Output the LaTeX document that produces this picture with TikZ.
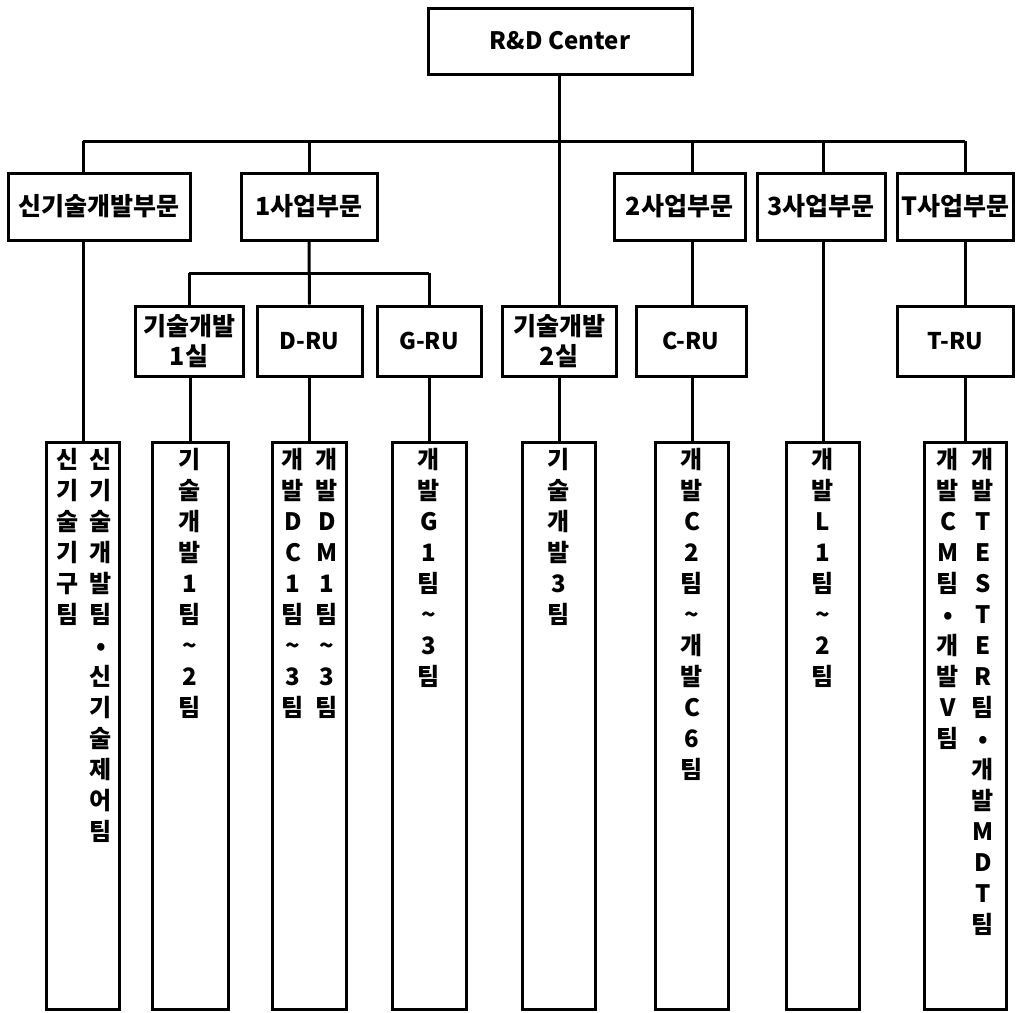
\documentclass[tikz,border=0pt]{standalone}
\usepackage{fontspec}
\setmainfont{Noto Sans CJK KR}
\newcommand{\latsz}[1]{{\fontsize{23}{30}\selectfont #1}}
\begin{document}
\begin{tikzpicture}[x=1pt,y=-1pt,
  box/.style={draw, line width=3pt, inner sep=0pt, align=center,
    font=\bfseries\fontsize{25}{30}\selectfont},
  tall/.style={draw, line width=3pt, inner sep=0pt, minimum height=567pt},
  col/.style={anchor=north, inner sep=0pt, align=center,
    font=\bfseries\fontsize{24}{31}\selectfont},
  conn/.style={draw, line width=3pt}]
\useasboundingbox (0,0) rectangle (1016,1012);
\fill[white] (0,0) rectangle (1016,1012);
% top
\node[box, minimum width=264pt, minimum height=66pt, font=\bfseries\fontsize{24}{30}\selectfont] (rd) at (560,41) {R\&D Center};
% level 2
\node[box, minimum width=182pt, minimum height=67pt] (n1) at (99,206.5) {신기술개발부문};
\node[box, minimum width=136pt, minimum height=67pt] (n2) at (309,206.5) {1사업부문};
\node[box, minimum width=131pt, minimum height=67pt] (n3) at (679.5,206.5) {2사업부문};
\node[box, minimum width=128pt, minimum height=67pt] (n4) at (821,206.5) {3사업부문};
\node[box, minimum width=116pt, minimum height=67pt] (n5) at (955,206.5) {T사업부문};
% level 3
\node[box, minimum width=108pt, minimum height=70pt] (m1) at (189,341) {기술개발\\1실};
\node[box, minimum width=105pt, minimum height=70pt] (m2) at (309.5,341) {\latsz{D-RU}};
\node[box, minimum width=104pt, minimum height=70pt] (m3) at (429,341) {\latsz{G-RU}};
\node[box, minimum width=114pt, minimum height=70pt] (m4) at (559,341) {기술개발\\2실};
\node[box, minimum width=110pt, minimum height=70pt] (m5) at (691,341) {\latsz{C-RU}};
\node[box, minimum width=116pt, minimum height=70pt] (m6) at (955,341) {\latsz{T-RU}};
% tall boxes
\node[tall, minimum width=73pt] (t1) at (83,725.5) {};
\node[tall, minimum width=76pt] (t2) at (190,725.5) {};
\node[tall, minimum width=74pt] (t3) at (309,725.5) {};
\node[tall, minimum width=74pt] (t4) at (429,725.5) {};
\node[tall, minimum width=73pt] (t5) at (559,725.5) {};
\node[tall, minimum width=73pt] (t6) at (692,725.5) {};
\node[tall, minimum width=73pt] (t7) at (823,725.5) {};
\node[tall, minimum width=82pt] (t8) at (965,725.5) {};
% column texts
\node[col] (t1a) at ([xshift=-15pt,yshift=-8pt]t1.north) {신\\기\\술\\기\\구\\팀};
\node[col] (t1b) at ([xshift=18pt,yshift=-8pt]t1.north) {신\\기\\술\\개\\발\\팀\\•\\신\\기\\술\\제\\어\\팀};
\node[col] (t2a) at ([yshift=-8pt]t2.north) {기\\술\\개\\발\\1\\팀\\\textasciitilde\\2\\팀};
\node[col] (t3a) at ([xshift=-16pt,yshift=-8pt]t3.north) {개\\발\\D\\C\\1\\팀\\\textasciitilde\\3\\팀};
\node[col] (t3b) at ([xshift=18pt,yshift=-8pt]t3.north) {개\\발\\D\\M\\1\\팀\\\textasciitilde\\3\\팀};
\node[col] (t4a) at ([yshift=-8pt]t4.north) {개\\발\\G\\1\\팀\\\textasciitilde\\3\\팀};
\node[col] (t5a) at ([yshift=-8pt]t5.north) {기\\술\\개\\발\\3\\팀};
\node[col] (t6a) at ([yshift=-8pt]t6.north) {개\\발\\C\\2\\팀\\\textasciitilde\\개\\발\\C\\6\\팀};
\node[col] (t7a) at ([yshift=-8pt]t7.north) {개\\발\\L\\1\\팀\\\textasciitilde\\2\\팀};
\node[col] (t8a) at ([xshift=-17pt,yshift=-8pt]t8.north) {개\\발\\C\\M\\팀\\•\\개\\발\\V\\팀};
\node[col] (t8b) at ([xshift=18pt,yshift=-8pt]t8.north) {개\\발\\T\\E\\S\\T\\E\\R\\팀\\•\\개\\발\\M\\D\\T\\팀};
% connectors
\coordinate (bus) at (0,141);
\coordinate (sub) at (0,273);
\draw[conn] (rd.south -| m4.north) -- (m4.north |- bus);
\draw[conn] (t1.north |- bus) -- (t8.north |- bus);
\draw[conn] (m4.north |- bus) -- (m4.north);
\draw[conn] (t1.north |- bus) -- (n1.north -| t1.north);
\draw[conn] (n1.south -| t1.north) -- (t1.north);
\draw[conn] (n2.north |- bus) -- (n2.north);
\draw[conn] (n2.south) -- (m2.north);
\draw[conn] (m1.north |- sub) -- (m3.north |- sub);
\draw[conn] (m1.north |- sub) -- (m1.north);
\draw[conn] (m3.north |- sub) -- (m3.north);
\draw[conn] (m1.south -| t2.north) -- (t2.north);
\draw[conn] (m2.south -| t3.north) -- (t3.north);
\draw[conn] (m3.south -| t4.north) -- (t4.north);
\draw[conn] (m4.south) -- (t5.north);
\draw[conn] (t6.north |- bus) -- (n3.north -| t6.north);
\draw[conn] (n3.south -| t6.north) -- (m5.north -| t6.north);
\draw[conn] (m5.south -| t6.north) -- (t6.north);
\draw[conn] (t7.north |- bus) -- (n4.north -| t7.north);
\draw[conn] (n4.south -| t7.north) -- (t7.north);
\draw[conn] (t8.north |- bus) -- (n5.north -| t8.north);
\draw[conn] (n5.south -| t8.north) -- (m6.north -| t8.north);
\draw[conn] (m6.south -| t8.north) -- (t8.north);
\end{tikzpicture}
\end{document}
